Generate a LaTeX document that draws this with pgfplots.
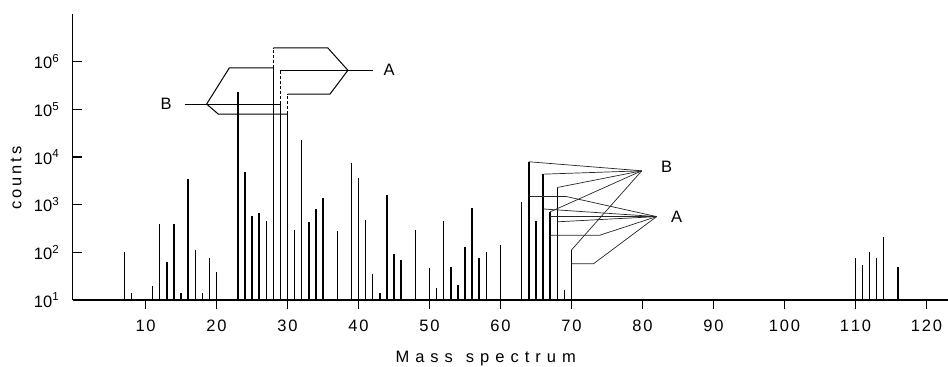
\documentclass[border=0pt]{standalone}
\usepackage{pgfplots}
\pgfplotsset{compat=1.18}
\usepackage{pgfplotstable}
\usepackage{fontspec}
\setmainfont{Liberation Sans}
\newcommand\lbl{\fontsize{16.5bp}{19bp}\selectfont}
\newcommand\g{\kern1.8bp}

\pgfplotstableread{
m v
7 100
8 14
11 20
12 390
13 62
14 390
15 14
16 3500
17 110
18 14
19 76
20 39
23 234000
24 4800
25 590
26 680
27 450
28 741000
29 128800
30 79400
31 300
32 22900
33 425
34 810
35 1350
37 285
39 7400
40 3550
41 480
42 35
43 14
44 1600
45 91
46 70
48 290
50 48
51 18
52 460
53 50
54 21
55 130
56 870
57 77
58 100
60 140
63 1150
64 7943
65 460
66 4365
67 708
68 2291
69 16
70 112
110 75
111 54
112 103
113 75
114 210
116 49
}\spectrum

\begin{document}
\begin{tikzpicture}[x=1bp,y=1bp]
\useasboundingbox (-72.7,-66) rectangle (875.3,300);
\begin{axis}[
  at={(0,0)}, anchor=south west,
  scale only axis, width=875.3bp, height=286bp,
  xmin=-0.27, xmax=123.05, ymin=10, ymax=1e7, ymode=log,
  axis x line=bottom, axis y line=left,
  axis line style={-, line width=1.6bp},
  xtick={10,20,...,120},
  xticklabels={1\g0,2\g0,3\g0,4\g0,5\g0,6\g0,7\g0,8\g0,9\g0,1\g0\g0,1\g1\g0,1\g2\g0},
  ytick={10,100,1000,10000,100000,1000000},
  yticklabels={\mbox{10\textsuperscript{1}},\mbox{10\textsuperscript{2}},\mbox{10\textsuperscript{3}},\mbox{10\textsuperscript{4}},\mbox{10\textsuperscript{5}},\mbox{10\textsuperscript{6}}},
  yminorticks=false, xminorticks=false,
  xtick pos=bottom, ytick pos=left,
  xtick align=outside, ytick align=inside,
  major tick length=9bp,
  tick style={line width=1.3bp, black},
  tick label style={font=\lbl},
  yticklabel style={xshift=-10bp},
  xticklabel style={yshift=-7bp},
]
\addplot[ycomb, line width=1.4bp] table[x=m,y=v] {\spectrum};
% dashed upper parts (spectrum A at 28-30)
\addplot[line width=1.3bp, dash pattern=on 3bp off 2bp] coordinates {(28,741000) (28,1950000)};
\addplot[line width=1.3bp, dash pattern=on 3bp off 2bp] coordinates {(29,128800) (29,660000)};
\addplot[line width=1.3bp, dash pattern=on 3bp off 2bp] coordinates {(30,79400) (30,209000)};
% left B bracket
\addplot[line width=1bp] coordinates {(15.55,128800) (29,128800)};
\addplot[line width=1bp] coordinates {(18.6,128800) (21.8,741000) (28,741000)};
\addplot[line width=1bp] coordinates {(18.6,128800) (20.25,79400) (30,79400)};
% left A bracket
\addplot[line width=1bp] coordinates {(28,1950000) (35.66,1950000) (38.5,660000)};
\addplot[line width=1bp] coordinates {(29,660000) (42,660000)};
\addplot[line width=1bp] coordinates {(30,209000) (35.98,209000) (38.5,660000)};
\node[font=\lbl] at (axis cs:12.9,128800) {B};
\node[font=\lbl] at (axis cs:44.3,660000) {A};
% right B connectors
\addplot[line width=0.7bp, black!85] coordinates {(64,7943) (79.9,5129)};
\addplot[line width=0.7bp, black!85] coordinates {(66,4365) (79.9,5129)};
\addplot[line width=0.7bp, black!85] coordinates {(68,2291) (79.9,5129)};
\addplot[line width=0.7bp, black!85] coordinates {(67,708) (79.9,5129)};
\addplot[line width=0.7bp, black!85] coordinates {(70,112) (79.9,5129)};
% right A connectors
\addplot[line width=0.7bp, black!85] coordinates {(64,1479) (69.3,1479) (82,562)};
\addplot[line width=0.7bp, black!85] coordinates {(66,813) (82,562)};
\addplot[line width=0.7bp, black!85] coordinates {(67,562) (82,562)};
\addplot[line width=0.7bp, black!85] coordinates {(68,437) (82,562)};
\addplot[line width=0.7bp, black!85] coordinates {(67,229) (74,229) (82,562)};
\addplot[line width=0.7bp, black!85] coordinates {(70,57.5) (73.1,57.5) (82,562)};
\node[font=\lbl] at (axis cs:83.4,6310) {B};
\node[font=\lbl] at (axis cs:84.8,562) {A};
\end{axis}
\node[rotate=90, font=\lbl] at (-56.7,122) {c\kern3bp o\kern3bp u\kern3bp n\kern3bp t\kern3bp s};
\node[font=\lbl] at (413,-59) {M\kern6bp a\kern6bp s\kern6bp s\kern13bp s\kern6bp p\kern6bp e\kern6bp c\kern6bp t\kern6bp r\kern6bp u\kern6bp m};
\end{tikzpicture}
\end{document}
